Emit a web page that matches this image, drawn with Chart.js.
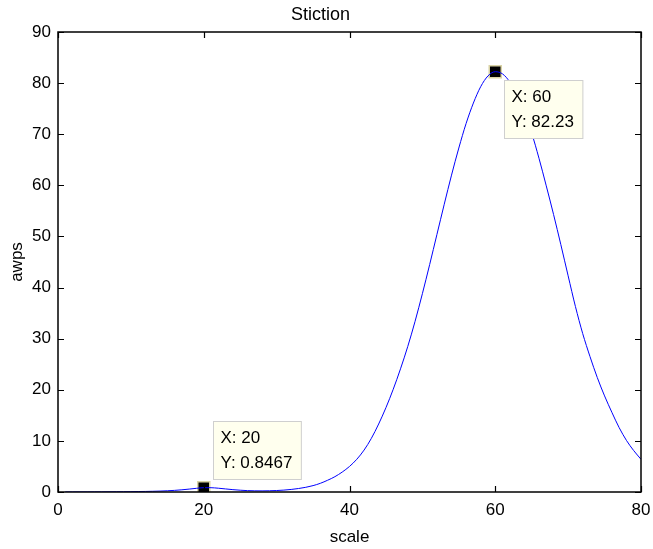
<!DOCTYPE html>
<html>
<head>
<meta charset="utf-8">
<script src="https://cdn.jsdelivr.net/npm/chart.js@4/dist/chart.umd.min.js"></script>
<style>
  html, body { margin: 0; padding: 0; background: #fff; }
  #wrap { width: 653px; height: 549px; }
</style>
</head>
<body>
<div id="wrap"><canvas id="chart" width="653" height="549"></canvas></div>
<script>
// scale vs awps
const scaleValues = [];
for (let i = 1; i <= 80; i++) scaleValues.push(i);
const awps = [
  0.01, 0.01, 0.02, 0.02, 0.03, 0.03, 0.04, 0.05, 0.06, 0.07,
  0.09, 0.11, 0.14, 0.18, 0.24, 0.32, 0.43, 0.57, 0.72, 0.8467,
  0.84, 0.74, 0.60, 0.46, 0.35, 0.27, 0.23, 0.22, 0.24, 0.29,
  0.37, 0.50, 0.68, 0.92, 1.25, 1.7, 2.3, 3.0, 3.9, 5.0,
  6.4, 8.2, 10.5, 13.3, 16.5, 20.1, 24.1, 28.5, 33.4, 38.8,
  44.5, 50.4, 56.3, 62.0, 67.3, 72.1, 76.1, 79.3, 81.4, 82.23,
  81.8, 80.2, 77.5, 74.0, 70.2, 65.3, 59.9, 54.3, 48.4, 42.3,
  36.3, 31.0, 26.5, 22.4, 18.8, 15.6, 12.6, 10.1, 8.1, 6.4
];
// data tips
const tipX = [20, 60];
const tipY = [0.8467, 82.23];
const tipText = [['X: 20', 'Y: 0.8467'], ['X: 60', 'Y: 82.23']];
const xTicks = [0, 20, 40, 60, 80];
const yTicks = [0, 10, 20, 30, 40, 50, 60, 70, 80, 90];

const FONT = 'Liberation Sans, Arial, Helvetica, sans-serif';

// box frame with inward ticks on all four sides
const frame = {
  id: 'frame',
  afterDatasetsDraw(chart) {
    const { ctx, chartArea: a, scales: { x, y } } = chart;
    ctx.save();
    ctx.strokeStyle = '#000';
    ctx.lineWidth = 1.5;
    ctx.strokeRect(a.left, a.top, a.right - a.left, a.bottom - a.top);
    ctx.beginPath();
    const len = 6;
    xTicks.forEach(v => {
      const px = Math.round(x.getPixelForValue(v)) + 0.5;
      ctx.moveTo(px, a.bottom); ctx.lineTo(px, a.bottom - len);
      ctx.moveTo(px, a.top); ctx.lineTo(px, a.top + len);
    });
    yTicks.forEach(v => {
      const py = Math.round(y.getPixelForValue(v)) + 0.5;
      ctx.moveTo(a.left, py); ctx.lineTo(a.left + len, py);
      ctx.moveTo(a.right, py); ctx.lineTo(a.right - len, py);
    });
    ctx.lineWidth = 1.2;
    ctx.stroke();
    ctx.restore();
  }
};

// yellow data tip boxes next to the markers
const dataTips = {
  id: 'dataTips',
  afterDraw(chart) {
    const { ctx, scales: { x, y } } = chart;
    ctx.save();
    ctx.font = '17px ' + FONT;
    ctx.textBaseline = 'middle';
    tipX.forEach((v, i) => {
      const px = x.getPixelForValue(v);
      const py = y.getPixelForValue(tipY[i]);
      const lines = tipText[i];
      const w = Math.max(...lines.map(t => ctx.measureText(t).width)) + 16;
      const h = 58;
      const bx = Math.round(px + 9) + 0.5;
      const by = i === 0 ? Math.round(py - 9 - h) + 0.5 : Math.round(py + 8) + 0.5;
      ctx.fillStyle = '#ffffee';
      ctx.fillRect(bx, by, w, h);
      ctx.strokeStyle = '#cfcfcf';
      ctx.lineWidth = 1;
      ctx.strokeRect(bx, by, w, h);
      ctx.fillStyle = '#000';
      ctx.fillText(lines[0], bx + 7, by + 17);
      ctx.fillText(lines[1], bx + 7, by + 42);
    });
    ctx.restore();
  }
};

new Chart(document.getElementById('chart'), {
  type: 'line',
  data: {
    datasets: [
      {
        data: scaleValues.map((s, i) => ({ x: s, y: awps[i] })),
        borderColor: 'rgb(0,0,255)',
        borderWidth: 1,
        pointRadius: 0,
        fill: false,
        cubicInterpolationMode: 'monotone'
      },
      {
        type: 'scatter',
        data: tipX.map((s, i) => ({ x: s, y: tipY[i] })),
        pointStyle: 'rect',
        pointRadius: 8.5,
        backgroundColor: '#000',
        borderColor: '#d9d3a6',
        borderWidth: 1.5
      }
    ]
  },
  options: {
    responsive: false,
    animation: false,
    events: [],
    layout: { padding: { left: 0, right: 12, top: 0, bottom: 0 } },
    plugins: {
      legend: { display: false },
      tooltip: { enabled: false },
      title: {
        display: true,
        text: 'Stiction',
        color: '#000',
        font: { family: FONT, size: 18, weight: 'normal', lineHeight: 1.2 },
        padding: { top: 4, bottom: 6.4 }
      }
    },
    scales: {
      x: {
        type: 'linear',
        min: 0, max: 80,
        afterBuildTicks: s => { s.ticks = xTicks.map(v => ({ value: v })); },
        afterFit: s => { s.height = 57; s.paddingLeft = 0; s.paddingRight = 0; },
        grid: { display: false, drawTicks: false },
        border: { display: false },
        ticks: { color: '#000', padding: 8, font: { family: FONT, size: 17 } },
        title: {
          display: true, text: 'scale', color: '#000',
          font: { family: FONT, size: 17, lineHeight: 1.2 },
          padding: { top: 0, bottom: 1 }
        }
      },
      y: {
        type: 'linear',
        min: 0, max: 90,
        afterBuildTicks: s => { s.ticks = yTicks.map(v => ({ value: v })); },
        afterFit: s => { s.width = 58; s.paddingTop = 0; s.paddingBottom = 0; },
        grid: { display: false, drawTicks: false },
        border: { display: false },
        ticks: { color: '#000', padding: 7, font: { family: FONT, size: 17 } },
        title: {
          display: true, text: 'awps', color: '#000',
          font: { family: FONT, size: 17, lineHeight: 1.2 },
          padding: { top: 7, bottom: 0 }
        }
      }
    }
  },
  plugins: [frame, dataTips]
});
</script>
</body>
</html>
